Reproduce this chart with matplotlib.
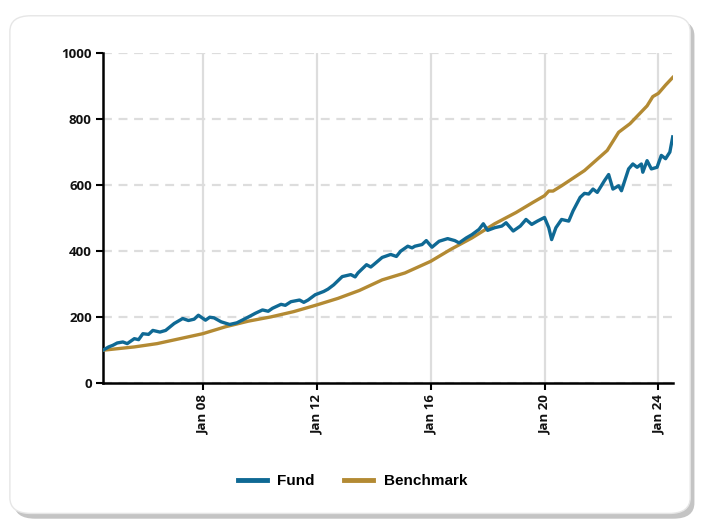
import numpy as np
import pandas as pd
import matplotlib
matplotlib.use("Agg")
import matplotlib.pyplot as plt
import matplotlib.dates as mdates
from matplotlib.patches import FancyBboxPatch

# decimal years and values
fund_years = [2004.5, 2004.7, 2004.85, 2005.0, 2005.2, 2005.35, 2005.6, 2005.75, 2005.9, 2006.1,
              2006.25, 2006.5, 2006.7, 2007.0, 2007.3, 2007.5, 2007.7, 2007.85, 2008.1, 2008.25,
              2008.4, 2008.65, 2008.95, 2009.2, 2009.5, 2009.7, 2009.85, 2010.1, 2010.3, 2010.45,
              2010.75, 2010.9, 2011.1, 2011.4, 2011.55, 2011.7, 2011.95, 2012.25, 2012.4, 2012.6,
              2012.9, 2013.2, 2013.35, 2013.45, 2013.75, 2013.9, 2014.0, 2014.3, 2014.6, 2014.8,
              2014.95, 2015.2, 2015.35, 2015.45, 2015.7, 2015.85, 2016.05, 2016.3, 2016.6, 2016.85,
              2017.0, 2017.25, 2017.45, 2017.7, 2017.85, 2018.0, 2018.25, 2018.5, 2018.65,
              2018.9, 2019.15, 2019.35, 2019.55, 2019.75, 2020.0, 2020.15, 2020.25, 2020.4,
              2020.6, 2020.85, 2021.0, 2021.25, 2021.4, 2021.55, 2021.7, 2021.85, 2022.1,
              2022.25, 2022.4, 2022.6, 2022.7, 2022.95, 2023.1, 2023.25, 2023.4, 2023.45,
              2023.6, 2023.75, 2023.95, 2024.1, 2024.25, 2024.4, 2024.5]
fund_values = [100, 110, 115, 122, 125, 120, 135, 132, 150, 148,
               160, 155, 160, 181, 196, 190, 194, 206, 191, 200,
               198, 186, 178, 183, 196, 205, 212, 222, 218, 227,
               239, 236, 247, 252, 245, 252, 268, 278, 285, 298,
               323, 329, 322, 334, 359, 352, 359, 381, 390, 384,
               400, 415, 410, 415, 420, 432, 412, 430, 438, 432,
               425, 440, 450, 466, 483, 463, 471, 476, 486,
               461, 476, 496, 481, 491, 502, 471, 435, 471,
               496, 491, 522, 563, 575, 573, 588, 578, 613,
               632, 588, 598, 583, 649, 664, 654, 664, 639,
               674, 649, 654, 690, 680, 700, 746]

bench_years = [2004.5, 2005.6, 2006.4, 2007.2, 2008.0, 2008.8, 2009.6, 2010.4, 2011.2,
               2012.0, 2012.75, 2013.5, 2014.3, 2015.1, 2016.0, 2016.7, 2017.45, 2018.25,
               2019.0, 2019.6, 2020.0, 2020.15, 2020.3, 2020.6, 2021.4, 2022.2, 2022.6,
               2023.0, 2023.6, 2023.8, 2024.0, 2024.25, 2024.5]
bench_values = [100, 110, 120, 135, 150, 171, 188, 201, 217,
                237, 257, 281, 313, 334, 369, 405, 440, 483,
                517, 548, 568, 582, 582, 598, 644, 705, 760,
                786, 840, 868, 878, 903, 926]

y_ticks = [0, 200, 400, 600, 800, 1000]
x_tick_years = [2008, 2012, 2016, 2020, 2024]
x_tick_labels = ["Jan 08", "Jan 12", "Jan 16", "Jan 20", "Jan 24"]


def to_dates(years):
    out = []
    for y in years:
        base = pd.Timestamp(year=int(y), month=1, day=1)
        out.append(base + pd.Timedelta(days=(y - int(y)) * 365.25))
    return out


fund_color = "#0f6994"
bench_color = "#b38a33"

fig = plt.figure(figsize=(7.05, 5.25), dpi=100)
fig.patch.set_facecolor("white")

# rounded card with a soft shadow
shadow = FancyBboxPatch((0.02, 0.012), 0.965, 0.95, boxstyle="round,pad=0,rounding_size=0.03",
                        transform=fig.transFigure, facecolor="#c4c4c4", edgecolor="none", zorder=0)
card = FancyBboxPatch((0.014, 0.022), 0.965, 0.948, boxstyle="round,pad=0,rounding_size=0.03",
                      transform=fig.transFigure, facecolor="white", edgecolor="#e6e6e6",
                      linewidth=1, zorder=1)
fig.patches.extend([shadow, card])

ax = fig.add_axes([0.146, 0.270, 0.809, 0.629])
ax.set_facecolor("none")
ax.set_zorder(2)

ax.plot(to_dates(bench_years), bench_values, color=bench_color, linewidth=2.4, label="Benchmark", zorder=3)
ax.plot(to_dates(fund_years), fund_values, color=fund_color, linewidth=2.4, label="Fund", zorder=4)

ax.set_xlim(to_dates([2004.5])[0], to_dates([2024.52])[0])
ax.set_ylim(0, 1000)
ax.set_yticks(y_ticks)
ax.set_xticks(to_dates(x_tick_years))
ax.set_xticklabels(x_tick_labels, rotation=90)

for lbl in ax.get_yticklabels() + ax.get_xticklabels():
    lbl.set_fontfamily("Open Sans")
    lbl.set_fontweight("bold")
    lbl.set_fontsize(9.5)
    lbl.set_color("#111111")

ax.yaxis.grid(True, linestyle=(0, (4, 3)), color="#dddddd", linewidth=1.6)
ax.xaxis.grid(True, linestyle="-", color="#dddddd", linewidth=1.6)
ax.set_axisbelow(True)

for side in ["top", "right"]:
    ax.spines[side].set_visible(False)
ax.spines["left"].set_linewidth(1.8)
ax.spines["bottom"].set_linewidth(1.8)
ax.tick_params(axis="y", length=5, width=1.5, pad=3)
ax.tick_params(axis="x", length=5, width=1.5, pad=3)

handles, labels = ax.get_legend_handles_labels()
leg = fig.legend([handles[1], handles[0]], [labels[1], labels[0]], loc="center",
                 bbox_to_anchor=(0.5, 0.083), ncol=2, frameon=False, handlelength=1.9,
                 columnspacing=1.9, handletextpad=0.7,
                 prop={"family": "Liberation Sans", "weight": "bold", "size": 11})
for line in leg.get_lines():
    line.set_linewidth(3.5)

fig.savefig("out.png", dpi=100)
